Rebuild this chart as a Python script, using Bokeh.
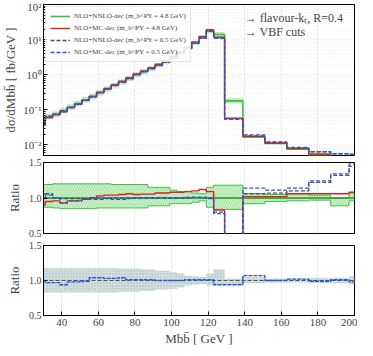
import numpy as np
from bokeh.plotting import figure
from bokeh.layouts import column
from bokeh.models import (FixedTicker, CustomJSTickFormatter, PrintfTickFormatter,
                          Legend, LegendItem, Range1d, Label)
from bokeh.embed import file_html
from bokeh.resources import INLINE

# ---------------- data ----------------
edges = [30, 31, 35, 39, 43, 47, 51, 55, 59, 63, 67, 71, 75, 79, 83, 87, 91, 95, 99,
         103, 107, 111, 115, 119, 123, 129, 139, 151, 163, 175, 187, 197, 200]

# NLO+NNLO-dec (m_b^PY = 4.8 GeV), fb/GeV
xsec_nnlo48 = [0.040, 0.062, 0.075, 0.095, 0.12, 0.15, 0.19, 0.24, 0.31, 0.39, 0.50,
               0.62, 0.78, 1.0, 1.22, 1.5, 1.85, 2.3, 3.0, 4.1, 5.6, 7.8, 11.0, 17.5,
               14.0, 0.18, 0.017, 0.011, 0.0075, 0.0052, 0.0042, 0.0037]

# ratios to NLO+NNLO-dec (4.8 GeV)
ratio_mc48 = [0.90, 0.95, 0.96, 0.93, 0.96, 0.96, 0.98, 1.00, 1.03, 1.04, 1.04, 1.05,
              1.06, 1.05, 1.055, 1.055, 1.07, 1.07, 1.08, 1.08, 1.09, 1.10, 1.12, 1.09,
              0.83, 0.32, 1.02, 1.02, 1.06, 1.06, 1.06, 1.08]
ratio_nnlo05 = [1.00, 1.06, 1.00, 0.99, 0.99, 0.99, 0.99, 0.98, 0.98, 0.99, 0.98, 0.98,
                0.99, 1.00, 1.00, 1.00, 1.00, 1.00, 1.00, 1.00, 1.00, 1.01, 1.01, 0.99,
                0.80, 0.30, 1.06, 1.07, 1.10, 1.22, 1.32, 1.45]
ratio_mc05 = [1.05, 1.04, 1.00, 0.93, 0.96, 0.96, 0.98, 1.00, 1.00, 1.00, 1.00, 1.00,
              1.00, 1.00, 1.00, 1.00, 1.00, 1.00, 1.00, 1.00, 1.01, 1.01, 1.01, 1.00,
              0.78, 0.30, 1.14, 1.11, 1.14, 1.24, 1.34, 1.48]
band48_hi = [1.19, 1.19, 1.20, 1.20, 1.20, 1.20, 1.20, 1.20, 1.20, 1.20, 1.19, 1.19,
             1.19, 1.19, 1.19, 1.15, 1.15, 1.15, 1.11, 1.09, 1.09, 1.07, 1.06, 1.15,
             1.18, 1.18, 1.06, 1.05, 1.06, 1.04, 1.00, 1.07]
band48_lo = [0.87, 0.87, 0.86, 0.85, 0.85, 0.85, 0.85, 0.85, 0.86, 0.86, 0.86, 0.86,
             0.86, 0.86, 0.86, 0.89, 0.89, 0.89, 0.92, 0.92, 0.92, 0.94, 0.96, 0.87,
             0.84, 0.84, 0.92, 0.95, 0.96, 0.97, 0.89, 0.96]

# ratios to NLO+NNLO-dec (0.5 GeV)
ratio2_mc05 = [1.00, 0.97, 0.97, 0.94, 0.98, 0.98, 0.99, 1.04, 1.04, 1.03, 1.03, 1.04,
               1.01, 1.01, 1.01, 1.01, 1.00, 1.00, 1.00, 1.00, 1.01, 1.01, 1.01, 1.01,
               0.94, 0.94, 1.07, 1.00, 1.02, 0.99, 1.01, 0.98]
band05_hi = [1.18, 1.18, 1.18, 1.18, 1.18, 1.18, 1.18, 1.18, 1.18, 1.18, 1.18, 1.17,
             1.17, 1.17, 1.16, 1.16, 1.14, 1.14, 1.12, 1.10, 1.07, 1.06, 1.05, 1.10,
             1.16, 1.03, 1.05, 1.03, 1.03, 1.04, 1.04, 1.06]
band05_lo = [0.83, 0.83, 0.83, 0.83, 0.83, 0.83, 0.83, 0.83, 0.83, 0.83, 0.83, 0.84,
             0.84, 0.84, 0.85, 0.85, 0.87, 0.87, 0.88, 0.90, 0.93, 0.94, 0.95, 0.93,
             0.94, 0.94, 0.96, 0.97, 0.97, 0.96, 0.96, 0.94]

x_ticks = [40, 60, 80, 100, 120, 140, 160, 180, 200]
ratio_ticks = [0.5, 1.0, 1.5]
log_ticks = [0.01, 0.1, 1, 10, 100]

labels = ["NLO+NNLO-dec (m_b^PY = 4.8 GeV)", "NLO+MC-dec (m_b^PY = 4.8 GeV)",
          "NLO+NNLO-dec (m_b^PY = 0.5 GeV)", "NLO+MC-dec (m_b^PY = 0.5 GeV)"]

# ---------------- styling ----------------
FONT = "Liberation Serif"
GREEN = "#3fbf3f"
GREEN_DK = "#2a8f2a"
GREEN_FILL = "#c6efc0"
RED = "#e02020"
GRAY = "#505050"
BLUE = "#2456e6"
SLATE_FILL = "#cddcdc"
SLATE_HATCH = "#9fb5b5"

g = np.array(xsec_nnlo48)
red = g * np.array(ratio_mc48)
gray = g * np.array(ratio_nnlo05)
blue = g * np.array(ratio_mc05)


def st(v):
    v = list(v)
    return v + [v[-1]]


x_range = Range1d(30, 200)


def style(p):
    p.outline_line_color = "black"
    p.outline_line_width = 1
    p.background_fill_color = "white"
    for ax in p.axis:
        ax.major_label_text_font = FONT
        ax.major_label_text_font_size = "11px"
        ax.axis_label_text_font = FONT
        ax.axis_label_text_font_size = "13px"
        ax.axis_label_text_font_style = "normal"
        ax.major_tick_in = 4
        ax.major_tick_out = 0
        ax.minor_tick_in = 2
        ax.minor_tick_out = 0
        ax.axis_line_color = "black"
    p.xaxis.ticker = FixedTicker(ticks=x_ticks)
    p.xgrid.grid_line_color = "#dddddd"
    p.xgrid.grid_line_dash = "2 2"
    p.xgrid.ticker = FixedTicker(ticks=x_ticks)


W = 311
# ---------------- top panel ----------------
p1 = figure(frame_width=W, frame_height=151, x_range=x_range,
            y_range=Range1d(0.005, 100), y_axis_type="log",
            output_backend="svg", toolbar_location=None,
            min_border_left=40, min_border_right=6, min_border_top=4, min_border_bottom=1)
style(p1)
p1.xaxis.visible = False
p1.yaxis.ticker = FixedTicker(ticks=log_ticks,
                              minor_ticks=[m * 10.0 ** e for e in range(-3, 2) for m in range(2, 10)])
p1.yaxis.formatter = CustomJSTickFormatter(code="""
const e = Math.round(Math.log10(tick));
const m = {'-':'\u207b','0':'\u2070','1':'\u00b9','2':'\u00b2','3':'\u00b3','4':'\u2074',
           '5':'\u2075','6':'\u2076','7':'\u2077','8':'\u2078','9':'\u2079'};
return '10' + String(e).split('').map(c => m[c]).join('');
""")
p1.yaxis.axis_label = "dσ/dMbb\u0304 [ fb/GeV ]"
p1.yaxis.axis_label_standoff = 2
p1.yaxis.major_label_standoff = 2
p1.ygrid.grid_line_color = "#e4e4e4"
p1.ygrid.grid_line_dash = "1 2"
p1.ygrid.minor_grid_line_color = "#eeeeee"
p1.ygrid.minor_grid_line_dash = "1 2"

p1.varea_step(x=edges, y1=st(g * np.array(band48_lo)), y2=st(g * np.array(band48_hi)),
              step_mode="after", fill_color=GREEN_FILL, fill_alpha=0.8,
              hatch_pattern="/", hatch_color=GREEN, hatch_alpha=0.6, hatch_scale=5, hatch_weight=0.6)
p1.varea_step(x=edges, y1=st(gray * np.array(band05_lo)), y2=st(gray * np.array(band05_hi)),
              step_mode="after", fill_color=SLATE_FILL, fill_alpha=0.5,
              hatch_pattern=".", hatch_color=SLATE_HATCH, hatch_alpha=0.6, hatch_scale=3)
r_g = p1.step(edges, st(g), mode="after", line_color=GREEN, line_width=1.6)
r_r = p1.step(edges, st(red), mode="after", line_color=RED, line_width=1.4)
r_k = p1.step(edges, st(gray), mode="after", line_color=GRAY, line_width=1.3, line_dash="4 2")
r_b = p1.step(edges, st(blue), mode="after", line_color=BLUE, line_width=1.3, line_dash="4 2")

leg = Legend(items=[LegendItem(label=labels[0], renderers=[r_g]),
                    LegendItem(label=labels[1], renderers=[r_r]),
                    LegendItem(label=labels[2], renderers=[r_k]),
                    LegendItem(label=labels[3], renderers=[r_b])],
             location="top_left")
leg.label_text_font = FONT
leg.label_text_font_size = "7px"
leg.label_height = 10
leg.glyph_height = 10
leg.glyph_width = 20
leg.spacing = 2
leg.padding = 4
leg.margin = 2
leg.label_standoff = 4
leg.border_line_color = "#cccccc"
leg.background_fill_alpha = 0.85
p1.add_layout(leg)

p1.add_layout(Label(x=140, y=40, text="→ flavour-kₜ, R=0.4", text_font=FONT,
                    text_font_size="12px", text_baseline="middle"))
p1.add_layout(Label(x=140, y=17, text="→ VBF cuts", text_font=FONT,
                    text_font_size="12px", text_baseline="middle"))

# ---------------- middle panel ----------------
p2 = figure(frame_width=W, frame_height=71, x_range=x_range, y_range=Range1d(0.5, 1.5),
            output_backend="svg", toolbar_location=None,
            min_border_left=40, min_border_right=6, min_border_top=6, min_border_bottom=6)
style(p2)
p2.xaxis.visible = False
p2.yaxis.major_label_text_font_size = "10px"
p2.yaxis.ticker = FixedTicker(ticks=ratio_ticks)
p2.yaxis.formatter = PrintfTickFormatter(format="%.1f")
p2.yaxis.axis_label = "Ratio"
p2.yaxis.axis_label_standoff = 4
p2.yaxis.major_label_standoff = 2
p2.ygrid.grid_line_color = None
p2.varea_step(x=edges, y1=st(band48_lo), y2=st(band48_hi), step_mode="after",
              fill_color=GREEN_FILL, fill_alpha=0.8,
              hatch_pattern="/", hatch_color=GREEN, hatch_alpha=0.6, hatch_scale=5, hatch_weight=0.6)
p2.step(edges, st(band48_hi), mode="after", line_color=GREEN, line_width=1)
p2.step(edges, st(band48_lo), mode="after", line_color=GREEN, line_width=1)
p2.step(edges, st(np.ones(len(g))), mode="after", line_color=GREEN_DK, line_width=1.3)
p2.step(edges, st(ratio_mc48), mode="after", line_color=RED, line_width=1.4)
p2.step(edges, st(ratio_nnlo05), mode="after", line_color=GRAY, line_width=1.3, line_dash="4 2")
p2.step(edges, st(ratio_mc05), mode="after", line_color=BLUE, line_width=1.3, line_dash="4 2")

# ---------------- bottom panel ----------------
p3 = figure(frame_width=W, frame_height=70, x_range=x_range, y_range=Range1d(0.5, 1.5),
            output_backend="svg", toolbar_location=None,
            min_border_left=40, min_border_right=6, min_border_top=6, min_border_bottom=4)
style(p3)
p3.yaxis.major_label_text_font_size = "10px"
p3.yaxis.ticker = FixedTicker(ticks=ratio_ticks)
p3.yaxis.formatter = PrintfTickFormatter(format="%.1f")
p3.yaxis.axis_label = "Ratio"
p3.yaxis.axis_label_standoff = 4
p3.yaxis.major_label_standoff = 2
p3.xaxis.axis_label = "Mbb\u0304 [ GeV ]"
p3.xaxis.axis_label_standoff = 2
p3.xaxis.major_label_standoff = 3
p3.ygrid.grid_line_color = None
p3.varea_step(x=edges, y1=st(band05_lo), y2=st(band05_hi), step_mode="after",
              fill_color=SLATE_FILL, fill_alpha=0.9,
              hatch_pattern=".", hatch_color=SLATE_HATCH, hatch_alpha=0.8, hatch_scale=3)
p3.step(edges, st(np.ones(len(g))), mode="after", line_color=GRAY, line_width=1.2, line_dash="4 2")
p3.step(edges, st(ratio2_mc05), mode="after", line_color=BLUE, line_width=1.4, line_dash="4 1")

layout = column(p1, p2, p3, spacing=0)
open("out.html", "w").write(file_html(layout, INLINE))
